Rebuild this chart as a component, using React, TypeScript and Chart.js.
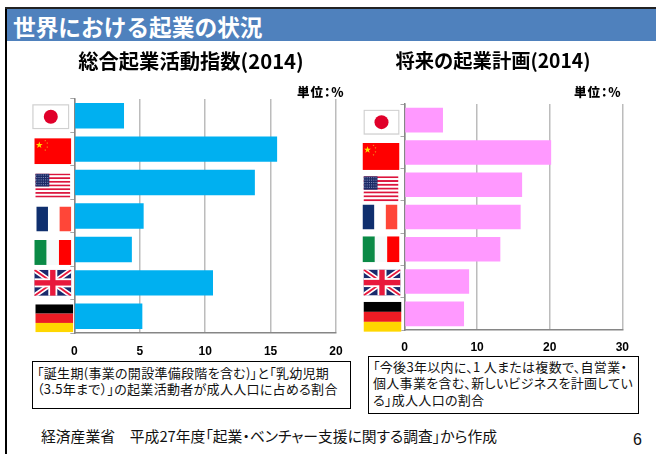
import React, { useEffect, useRef } from "react";
import { Chart, registerables } from "chart.js";

Chart.register(...registerables);

const countries = ["日本", "中国", "米国", "フランス", "イタリア", "英国", "ドイツ"];
const flagCodes = ["jp", "cn", "us", "fr", "it", "gb", "de"];
const activityValues = [3.8, 15.5, 13.8, 5.3, 4.4, 10.6, 5.2];
const planValues = [5.3, 20.2, 16.2, 16.0, 13.2, 8.9, 8.2];
const activityTicks = [0, 5, 10, 15, 20];
const planTicks = [0, 10, 20, 30];

const JP_FONT = '"Noto Sans CJK JP", sans-serif';
const NUM_FONT = '"Liberation Sans", Arial, sans-serif';

// Flag boxes relative to the axis line and the band centre: [x offset, width, height, y offset]
const activityFlagBoxes = [
  [-42, 37, 25, 1], [-40, 37, 26, 2], [-39, 35, 24, 3], [-38, 35, 25, 3],
  [-40, 37, 25, 3], [-40, 37, 26, 0], [-39, 38, 28, 2],
];
const planFlagBoxes = [
  [-41, 36, 25, 2], [-42, 37, 27, 4], [-41, 35, 25, 4], [-42, 35, 25, 0],
  [-42, 37, 26, 0], [-41, 37, 26, 1], [-41, 38, 30, 3],
];

type Ctx = CanvasRenderingContext2D;

function star(c: Ctx, x: number, y: number, r: number) {
  c.beginPath();
  for (let i = 0; i < 10; i++) {
    const a = -Math.PI / 2 + (i * Math.PI) / 5;
    const d = i % 2 === 0 ? r : r * 0.4;
    c.lineTo(x + Math.cos(a) * d, y + Math.sin(a) * d);
  }
  c.closePath();
  c.fill();
}

function drawFlag(c: Ctx, code: string, x: number, y: number, w: number, h: number) {
  c.save();
  c.beginPath();
  c.rect(x, y, w, h);
  c.clip();
  c.fillStyle = "#ffffff";
  c.fillRect(x, y, w, h);
  if (code === "jp") {
    c.fillStyle = "#e0002a";
    c.beginPath();
    c.arc(x + w / 2, y + h / 2, 7, 0, Math.PI * 2);
    c.fill();
    c.strokeStyle = "#d0d0d0";
    c.lineWidth = 1.5;
    c.strokeRect(x + 0.5, y + 0.5, w - 1, h - 1);
  } else if (code === "cn") {
    c.fillStyle = "#ff0000";
    c.fillRect(x, y, w, h);
    c.fillStyle = "#ffdc00";
    star(c, x + 5, y + 7, 3.6);
    c.fillStyle = "#f0a020";
    [[11, 2.5], [13, 5], [13, 9], [11, 12]].forEach(([dx, dy]) => star(c, x + dx, y + dy, 1));
  } else if (code === "us") {
    const stripe = h / 13;
    for (let i = 0; i < 13; i++) {
      c.fillStyle = i % 2 === 0 ? "#dc143c" : "#ffffff";
      c.fillRect(x, y + i * stripe, w, stripe);
    }
    c.fillStyle = "#1c2a66";
    c.fillRect(x, y, w * 0.4, stripe * 7);
    c.fillStyle = "#8c96c0";
    for (let r = 0; r < 5; r++) {
      for (let s = 0; s < 6; s++) {
        c.fillRect(x + 1 + s * 2.2, y + 1 + r * 2.4, 1, 1);
      }
    }
  } else if (code === "fr") {
    c.fillStyle = "#0f2f6e";
    c.fillRect(x, y, w / 3, h);
    c.fillStyle = "#ff4638";
    c.fillRect(x + (w * 2) / 3, y, w / 3, h);
  } else if (code === "it") {
    c.fillStyle = "#0a8a46";
    c.fillRect(x, y, w / 3, h);
    c.fillStyle = "#f6fafa";
    c.fillRect(x + w / 3, y, w / 3, h);
    c.fillStyle = "#ff0000";
    c.fillRect(x + (w * 2) / 3, y, w / 3, h);
  } else if (code === "gb") {
    c.fillStyle = "#1a2a6c";
    c.fillRect(x, y, w, h);
    const diagonals = (color: string, width: number) => {
      c.strokeStyle = color;
      c.lineWidth = width;
      c.beginPath();
      c.moveTo(x, y);
      c.lineTo(x + w, y + h);
      c.moveTo(x + w, y);
      c.lineTo(x, y + h);
      c.stroke();
    };
    diagonals("#ffffff", 5);
    diagonals("#e8193c", 1.8);
    c.fillStyle = "#ffffff";
    c.fillRect(x + w / 2 - 4.5, y, 9, h);
    c.fillRect(x, y + h / 2 - 4.5, w, 9);
    c.fillStyle = "#e8193c";
    c.fillRect(x + w / 2 - 2.7, y, 5.4, h);
    c.fillRect(x, y + h / 2 - 2.7, w, 5.4);
  } else if (code === "de") {
    c.fillStyle = "#000000";
    c.fillRect(x, y, w, h / 3);
    c.fillStyle = "#ed1c24";
    c.fillRect(x, y + h / 3, w, h / 3);
    c.fillStyle = "#ffd700";
    c.fillRect(x, y + (h * 2) / 3, w, h / 3);
  }
  c.restore();
}

const flagsPlugin = {
  id: "flagsPlugin",
  afterDraw(chart: any, _args: any, opts: any) {
    const yScale = chart.scales.y;
    const left = chart.chartArea.left;
    flagCodes.forEach((code, i) => {
      const [dx, w, h, dy] = opts.boxes[i];
      const cy = yScale.getPixelForValue(i) + dy;
      drawFlag(chart.ctx, code, left + dx, cy - h / 2, w, h);
    });
  },
};

// Centres the title on the whole canvas rather than on the plot area.
const centredTitlePlugin = {
  id: "centredTitlePlugin",
  afterLayout(chart: any) {
    if (chart.titleBlock) {
      chart.titleBlock.left = 0;
      chart.titleBlock.right = chart.width;
    }
  },
};

type PanelProps = {
  title: string;
  titleSize: number;
  values: number[];
  color: string;
  max: number;
  step: number;
  ticks: number[];
  flagBoxes: number[][];
  left: number;
  width: number;
  padLeft: number;
  padRight: number;
  titleBottom: number;
  axisHeight: number;
  labelGap: number;
};

function Panel(p: PanelProps) {
  const ref = useRef<HTMLCanvasElement>(null);
  useEffect(() => {
    const chart = new Chart(ref.current!, {
      type: "bar",
      data: {
        labels: countries,
        datasets: [
          {
            data: p.values,
            backgroundColor: p.color,
            barPercentage: 0.76,
            categoryPercentage: 1,
          },
        ],
      },
      options: {
        indexAxis: "y",
        responsive: false,
        animation: false,
        layout: { padding: { left: p.padLeft, right: p.padRight, top: 0, bottom: 0 } },
        plugins: {
          legend: { display: false },
          tooltip: { enabled: false },
          title: {
            display: true,
            text: p.title,
            color: "#000000",
            font: { family: JP_FONT, size: p.titleSize, weight: "bold", lineHeight: 24 / p.titleSize },
            padding: { top: 5, bottom: p.titleBottom },
          },
          flagsPlugin: { boxes: p.flagBoxes },
        },
        scales: {
          x: {
            min: 0,
            max: p.max,
            afterFit(axis: any) {
              axis.height = p.axisHeight;
            },
            afterBuildTicks(axis: any) {
              axis.ticks = p.ticks.map((value) => ({ value }));
            },
            ticks: {
              stepSize: p.step,
              color: "#000000",
              padding: 0,
              maxRotation: 0,
              font: { family: NUM_FONT, size: 12, weight: "bold" },
            },
            // The invisible tick marks hold the labels away from the axis line.
            grid: { color: "#bcbcbc", lineWidth: 1.5, drawTicks: true, tickLength: p.labelGap, tickColor: "rgba(0,0,0,0)" },
            border: { color: "#868686", width: 1.5 },
          },
          y: {
            afterFit(axis: any) {
              axis.width = 0;
            },
            ticks: { display: false },
            grid: {
              drawOnChartArea: false,
              drawTicks: true,
              tickLength: 4,
              color: "#a8a8a8",
              offset: true,
            },
            border: { color: "#868686", width: 1.5 },
          },
        },
      },
      plugins: [flagsPlugin, centredTitlePlugin],
    } as any);
    return () => chart.destroy();
  }, []);
  return (
    <canvas
      ref={ref}
      width={p.width}
      height={312}
      style={{ position: "absolute", left: p.left, top: 44, width: p.width, height: 312 }}
    />
  );
}

const textBase: React.CSSProperties = {
  position: "absolute",
  whiteSpace: "nowrap",
  fontFamily: JP_FONT,
  fontFeatureSettings: '"palt"',
  color: "#000000",
};

function Caption(props: { x: number; y: number; w: number; h: number; lines: string[]; pad: number; size: number; spacing: number }) {
  return (
    <div
      style={{
        position: "absolute",
        boxSizing: "border-box",
        left: props.x,
        top: props.y,
        width: props.w,
        height: props.h,
        border: "1.5px solid #000",
        background: "#fff",
        padding: `${props.pad}px 0 0 4px`,
        fontFamily: JP_FONT,
        fontFeatureSettings: '"palt"',
        fontSize: props.size,
        letterSpacing: props.spacing,
        lineHeight: "16.4px",
        color: "#111",
        whiteSpace: "nowrap",
      }}
    >
      {props.lines.map((line) => (
        <div key={line}>{line}</div>
      ))}
    </div>
  );
}

export default function App() {
  return (
    <div style={{ position: "absolute", left: 0, top: 0, width: 656, height: 454, overflow: "hidden", background: "#fff" }}>
      <div style={{ position: "absolute", left: 5, top: 7, width: 2, height: 447, background: "#000" }} />
      <div style={{ position: "absolute", left: 5, top: 7, width: 651, height: 2, background: "#222" }} />
      <div style={{ position: "absolute", left: 7, top: 9, width: 649, height: 32, background: "#4f81bd" }} />
      <div style={{ ...textBase, fontFeatureSettings: "normal", left: 13, top: 9, height: 32, lineHeight: "36px", fontSize: 22.7, fontWeight: 700, color: "#fff" }}>
        世界における起業の状況
      </div>

      <Panel
        title="総合起業活動指数(2014)"
        titleSize={20.3}
        values={activityValues}
        color="#00b0f0"
        max={20}
        step={5}
        ticks={activityTicks}
        flagBoxes={activityFlagBoxes}
        left={30}
        width={322}
        padLeft={44.3}
        padRight={16}
        titleBottom={26}
        axisHeight={23}
        labelGap={11}
      />
      <Panel
        title="将来の起業計画(2014)"
        titleSize={19.3}
        values={planValues}
        color="#ff99ff"
        max={30}
        step={10}
        ticks={planTicks}
        flagBoxes={planFlagBoxes}
        left={350}
        width={286}
        padLeft={54.5}
        padRight={13.7}
        titleBottom={31}
        axisHeight={26}
        labelGap={10}
      />

      <div style={{ ...textBase, left: 297, top: 84, fontSize: 12.5, letterSpacing: 1, lineHeight: "16px", fontWeight: 900 }}>単位：%</div>
      <div style={{ ...textBase, left: 574, top: 84, fontSize: 12.5, letterSpacing: 1, lineHeight: "16px", fontWeight: 900 }}>単位：%</div>

      <Caption
        x={32}
        y={361}
        w={319}
        h={48}
        pad={3}
        size={13}
        spacing={0.3}
        lines={["「誕生期(事業の開設準備段階を含む)」と「乳幼児期", "（3.5年まで）」の起業活動者が成人人口に占める割合"]}
      />
      <Caption
        x={368}
        y={356}
        w={271}
        h={58}
        pad={2}
        size={13}
        spacing={0.3}
        lines={["「今後3年以内に、1 人または複数で、自営業・", "個人事業を含む、新しいビジネスを計画してい", "る」成人人口の割合"]}
      />

      <div style={{ ...textBase, left: 41, top: 426, fontSize: 14.8, lineHeight: "20px", color: "#111" }}>
        経済産業省　平成27年度「起業・ベンチャー支援に関する調査」から作成
      </div>
      <div style={{ ...textBase, left: 633, top: 430, fontSize: 16, lineHeight: "20px", color: "#111", fontFamily: NUM_FONT }}>6</div>
    </div>
  );
}
